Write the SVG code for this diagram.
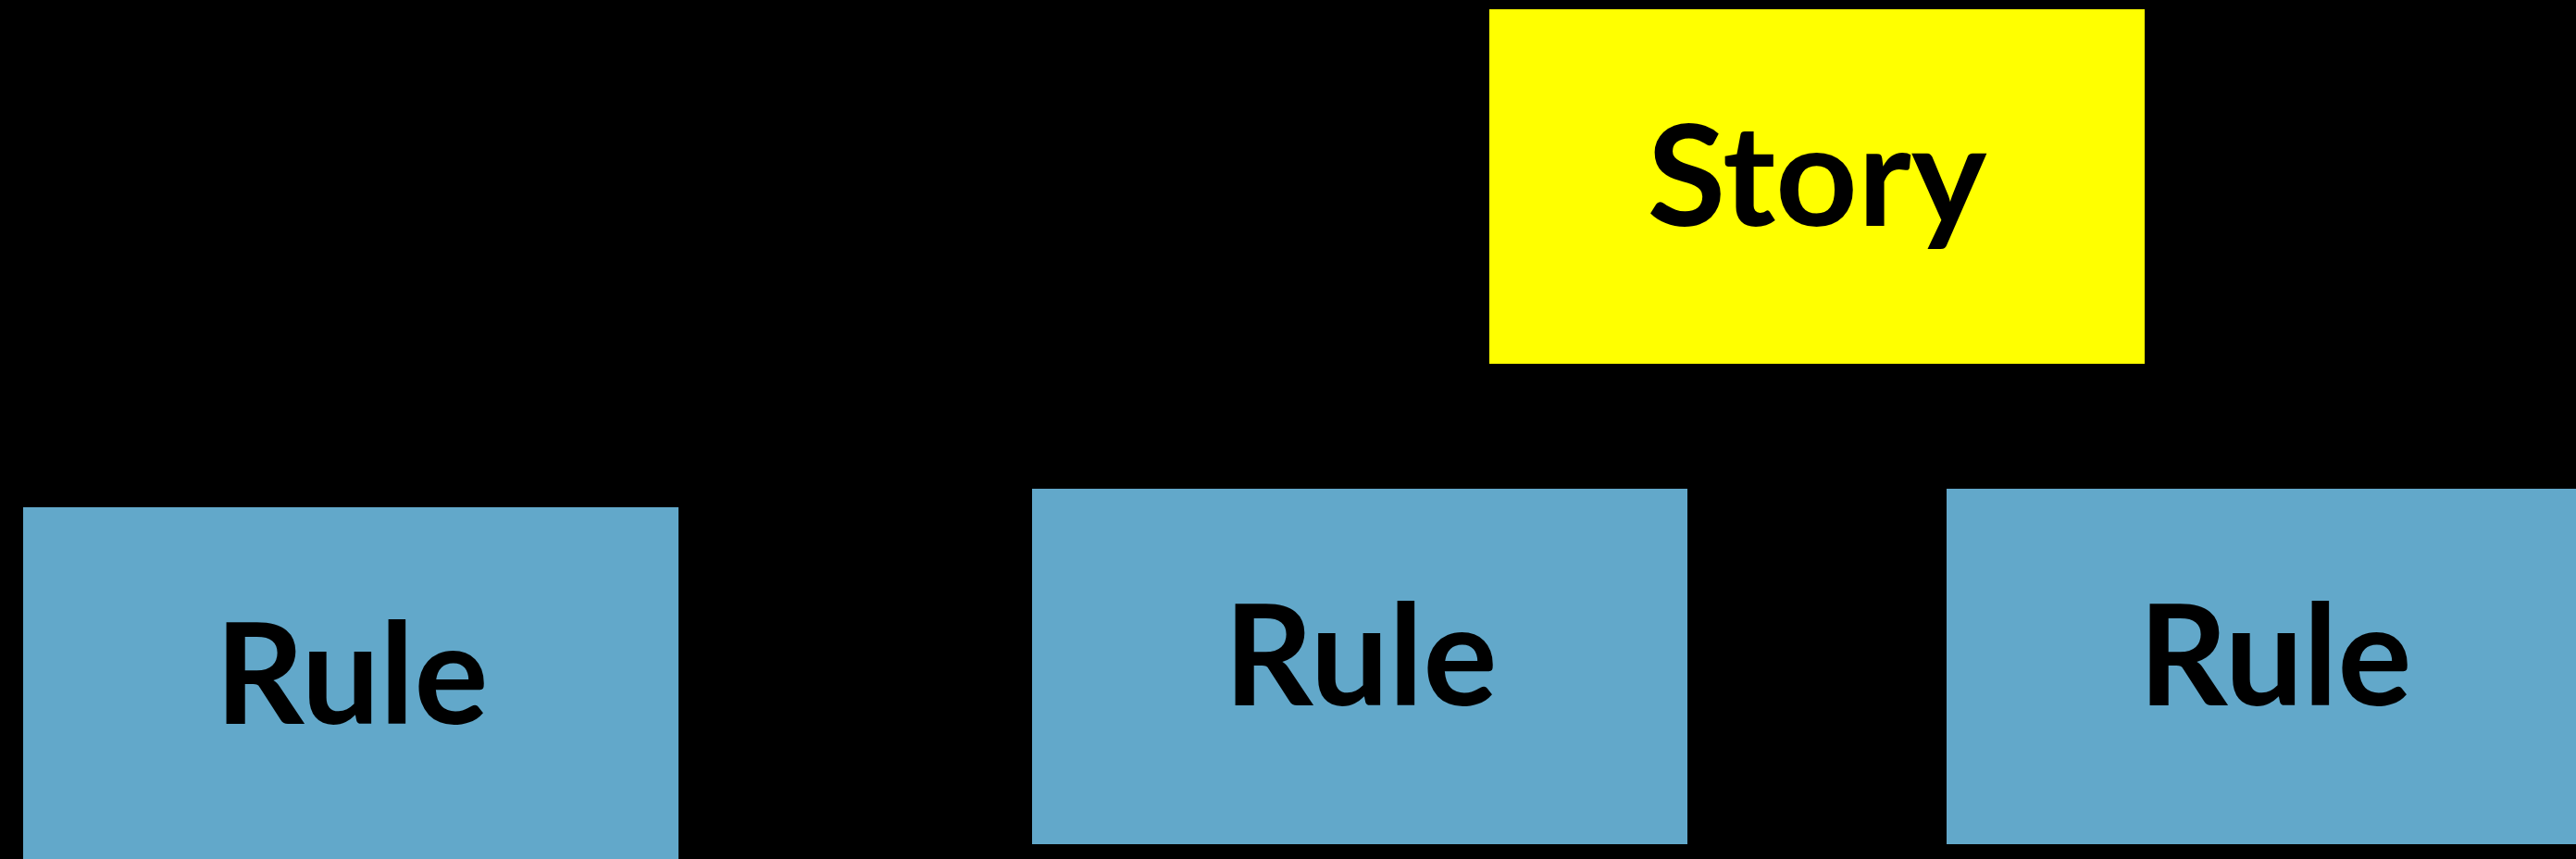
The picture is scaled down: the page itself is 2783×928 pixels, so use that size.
<svg xmlns="http://www.w3.org/2000/svg" width="2783" height="928" viewBox="0 0 2783 928">
<style>
.bg{fill:#000000}
.story{fill:#FFFF00}
.rule{fill:#62A8CA}
.lbl{font-family:Lato,"Liberation Sans",sans-serif;font-weight:bold;font-size:151px;fill:#000000;text-anchor:middle}
</style>
<rect class="bg" x="0" y="0" width="2783" height="928"/>
<g id="connectors"></g>
<g id="node-story">
<rect class="story" x="1609" y="10" width="708" height="383"/>
<text class="lbl" x="1963" y="244" textLength="367" lengthAdjust="spacingAndGlyphs">Story</text>
</g>
<g id="node-rule1">
<rect class="rule" x="25" y="548" width="708" height="390"/>
<text class="lbl" x="380" y="782" textLength="295" lengthAdjust="spacingAndGlyphs">Rule</text>
</g>
<g id="node-rule2">
<rect class="rule" x="1115" y="528" width="708" height="384"/>
<text class="lbl" x="1470" y="762" textLength="295" lengthAdjust="spacingAndGlyphs">Rule</text>
</g>
<g id="node-rule3">
<rect class="rule" x="2103" y="528" width="708" height="384"/>
<text class="lbl" x="2458" y="762" textLength="295" lengthAdjust="spacingAndGlyphs">Rule</text>
</g>
</svg>
